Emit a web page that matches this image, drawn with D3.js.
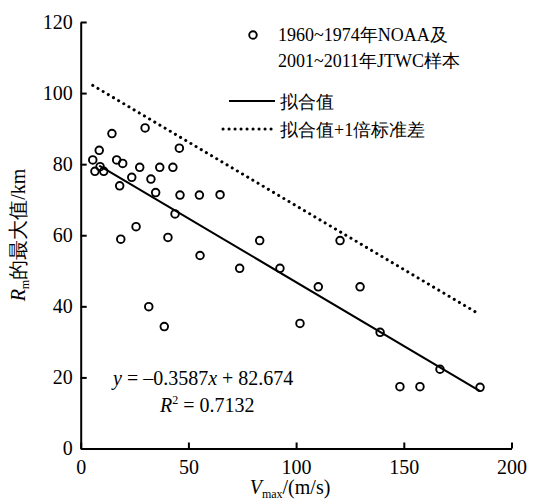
<!DOCTYPE html>
<html>
<head>
<meta charset="utf-8">
<script src="https://cdn.jsdelivr.net/npm/d3@7"></script>
<style>
  body { margin: 0; background: #fff; }
</style>
</head>
<body>
<div id="chart"></div>
<script>
var width = 533;
var height = 504;
var fontStack = "'Liberation Serif', 'DejaVu Serif', serif";

// samples: Vmax (m/s) and Rm max (km)
var vmax = [5.6, 8.6, 6.6, 9.0, 10.7, 14.5, 16.7, 19.5, 18.1, 23.7, 27.4, 29.9, 32.6, 34.8, 36.7,
            42.8, 45.8, 46.1, 43.8, 25.7, 18.6, 40.5, 55.1, 55.4, 31.6, 38.8, 64.7, 83.1, 73.8,
            92.5, 110.3, 120.4, 129.7, 101.8, 139.0, 166.8, 148.2, 157.5, 185.4];
var rmax = [81.2, 83.9, 78.0, 79.3, 78.0, 88.6, 81.2, 80.2, 73.9, 76.3, 79.1, 90.2, 75.8, 72.0, 79.1,
            79.1, 84.5, 71.3, 66.0, 62.4, 58.9, 59.4, 71.3, 54.3, 39.9, 34.3, 71.4, 58.5, 50.7,
            50.7, 45.5, 58.5, 45.5, 35.2, 32.7, 22.3, 17.4, 17.4, 17.2];

var slope = -0.3587;
var intercept = 82.674;
var stdDev = 21.5;
var fitRange = [8.6, 185.4];
var stdRange = [5.6, 184];

var xTicks = [0, 50, 100, 150, 200];
var yTicks = [0, 20, 40, 60, 80, 100, 120];

var legendLabels = ["1960~1974年NOAA及", "2001~2011年JTWC样本", "拟合值", "拟合值+1倍标准差"];

var svg = d3.select("#chart")
    .append("svg")
    .attr("width", width)
    .attr("height", height)
    .style("font-family", fontStack);

var x = d3.scaleLinear().domain([0, 200]).range([80.7, 511.5]);
var y = d3.scaleLinear().domain([0, 120]).range([448.5, 22]);

// axes, ticks pointing inward
var xAxis = svg.append("g")
    .attr("transform", "translate(0," + y(0) + ")")
    .call(d3.axisBottom(x).tickValues(xTicks).tickSizeInner(-6).tickSizeOuter(0).tickPadding(11));
var yAxis = svg.append("g")
    .attr("transform", "translate(" + x(0) + ",0)")
    .call(d3.axisLeft(y).tickValues(yTicks).tickSizeInner(-6).tickSizeOuter(0).tickPadding(8));

[xAxis, yAxis].forEach(function (g) {
    g.attr("font-family", null);
    g.selectAll("path, line").attr("stroke", "#000").attr("stroke-width", 2);
    g.selectAll("text").attr("font-size", 20).attr("fill", "#000");
});

// fitted line and +1 std line
var line = d3.line()
    .x(function (d) { return x(d); })
    .y(function (d) { return y(slope * d + intercept); });
var lineStd = d3.line()
    .x(function (d) { return x(d); })
    .y(function (d) { return y(slope * d + intercept + stdDev); });

svg.append("path")
    .attr("d", line(fitRange))
    .attr("fill", "none")
    .attr("stroke", "#000")
    .attr("stroke-width", 2);

svg.append("path")
    .attr("d", lineStd(stdRange))
    .attr("fill", "none")
    .attr("stroke", "#000")
    .attr("stroke-width", 3)
    .attr("stroke-linecap", "round")
    .attr("stroke-dasharray", "0.1,5.9");

// scatter points
svg.selectAll(".pt")
    .data(vmax)
    .enter().append("circle")
    .attr("class", "pt")
    .attr("cx", function (d) { return x(d); })
    .attr("cy", function (d, i) { return y(rmax[i]); })
    .attr("r", 3.8)
    .attr("fill", "none")
    .attr("stroke", "#000")
    .attr("stroke-width", 1.9);

// legend
var legend = svg.append("g").attr("font-size", 18);
legend.append("circle")
    .attr("cx", 253).attr("cy", 35).attr("r", 3.8)
    .attr("fill", "none").attr("stroke", "#000").attr("stroke-width", 1.9);
legend.append("text").attr("x", 278).attr("y", 41).text(legendLabels[0]);
legend.append("text").attr("x", 278).attr("y", 67).text(legendLabels[1]);
legend.append("line")
    .attr("x1", 229).attr("x2", 275).attr("y1", 101).attr("y2", 101)
    .attr("stroke", "#000").attr("stroke-width", 2);
legend.append("text").attr("x", 280).attr("y", 108).text(legendLabels[2]);
legend.append("line")
    .attr("x1", 223).attr("x2", 275).attr("y1", 129).attr("y2", 129)
    .attr("stroke", "#000").attr("stroke-width", 3)
    .attr("stroke-linecap", "round").attr("stroke-dasharray", "0.1,5.9");
legend.append("text").attr("x", 280).attr("y", 136).text(legendLabels[3]);

// regression equation
var eq = svg.append("g").attr("font-size", 20);
var t1 = eq.append("text").attr("x", 113).attr("y", 385);
t1.append("tspan").attr("font-style", "italic").text("y");
t1.append("tspan").text(" = \u20130.3587");
t1.append("tspan").attr("font-style", "italic").text("x");
t1.append("tspan").text(" + 82.674");
var t2 = eq.append("text").attr("x", 160).attr("y", 412);
t2.append("tspan").attr("font-style", "italic").text("R");
t2.append("tspan").attr("font-size", 12).attr("dy", -8).text("2");
t2.append("tspan").attr("dy", 8).text(" = 0.7132");

// axis titles
var xt = svg.append("text")
    .attr("x", 290).attr("y", 494)
    .attr("text-anchor", "middle")
    .attr("font-size", 20);
xt.append("tspan").attr("font-style", "italic").text("V");
xt.append("tspan").attr("font-size", 12).attr("dy", 4).text("max");
xt.append("tspan").attr("dy", -4).text("/(m/s)");

var yt = svg.append("text")
    .attr("transform", "translate(25,235) rotate(-90)")
    .attr("text-anchor", "middle")
    .attr("font-size", 20);
yt.append("tspan").attr("font-style", "italic").text("R");
yt.append("tspan").attr("font-size", 12).attr("dy", 4).text("m");
yt.append("tspan").attr("dy", -4).text("的最大值/km");

svg.selectAll("text").style("font-family", fontStack);
</script>
</body>
</html>
